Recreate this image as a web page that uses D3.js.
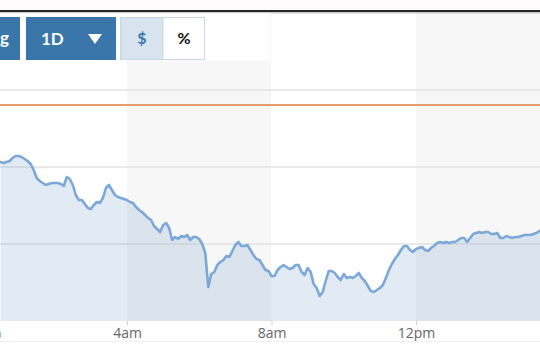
<!DOCTYPE html>
<html>
<head>
<meta charset="utf-8">
<script src="https://cdn.jsdelivr.net/npm/d3@7"></script>
<style>
  html, body { margin: 0; padding: 0; background: #fdfbfb; }
  svg { display: block; }
</style>
</head>
<body>
<svg id="chart" width="540" height="360"></svg>
<script>
// ---- data ----
const startMinute = 30;   // first sample at 00:30
const stepMinutes = 5;    // one sample every 5 minutes
const prices = [
  41.59,41.58,41.59,41.60,41.63,41.65,41.65,41.64,41.62,41.60,41.57,41.51,41.43,41.40,41.38,41.36,41.37,41.38,41.38,41.38,
  41.37,41.35,41.44,41.42,41.36,41.26,41.21,41.21,41.17,41.13,41.12,41.16,41.19,41.18,41.23,41.33,41.36,41.31,41.26,41.24,
  41.23,41.22,41.21,41.19,41.18,41.14,41.11,41.09,41.06,41.03,41.01,40.95,40.92,40.89,40.96,40.98,40.93,40.81,40.84,40.82,
  40.85,40.84,40.86,40.81,40.84,40.84,40.82,40.77,40.68,40.34,40.47,40.49,40.56,40.59,40.61,40.65,40.64,40.70,40.76,40.79,
  40.75,40.75,40.76,40.71,40.66,40.62,40.61,40.56,40.51,40.50,40.45,40.45,40.51,40.54,40.56,40.54,40.52,40.53,40.56,40.56,
  40.49,40.46,40.53,40.49,40.37,40.33,40.25,40.29,40.40,40.50,40.50,40.48,40.44,40.41,40.47,40.43,40.44,40.43,40.45,40.48,
  40.43,40.40,40.35,40.30,40.29,40.31,40.33,40.36,40.43,40.51,40.57,40.62,40.66,40.71,40.75,40.75,40.71,40.69,40.72,40.73,
  40.74,40.71,40.70,40.73,40.75,40.78,40.79,40.78,40.79,40.78,40.79,40.79,40.81,40.83,40.83,40.79,40.83,40.87,40.88,40.89,
  40.88,40.89,40.89,40.87,40.87,40.88,40.83,40.83,40.85,40.84,40.83,40.84,40.84,40.85,40.86,40.86,40.86,40.87,40.88,40.90,
  40.92
];
const referencePrice = 42.16;                       // orange line
const gridPrices = [40.77, 41.54, 42.31, 43.08];
const priceDomain = [40.00, 43.08];
const tickMinutes = [0, 240, 480, 720];
const tickLabels = ["12am", "4am", "8am", "12pm"];
const bandStarts = [0, 240, 480, 720];              // 4-hour shaded bands
const buttonLabels = ["Log", "1D"];
const toggleLabels = ["$", "%"];

// ---- layout ----
const W = 540, H = 360;
const plotTop = 13, plotBottom = 321;
const svg = d3.select("#chart");

const x = d3.scaleLinear().domain([0, 960]).range([-17.5, 560.5]);
const y = d3.scaleLinear().domain(priceDomain).range([plotBottom, plotTop]);

const data = prices.map((p, i) => ({ t: startMinute + i * stepMinutes, p }));

// page background
svg.append("rect").attr("x", 0).attr("y", 0).attr("width", W).attr("height", H).attr("fill", "#fdfbfb");
svg.append("rect").attr("x", 0).attr("y", plotTop).attr("width", W).attr("height", H - plotTop).attr("fill", "#ffffff");

// alternating bands
svg.append("g").selectAll("rect").data(bandStarts).join("rect")
  .attr("x", d => x(d))
  .attr("y", plotTop)
  .attr("width", d => x(d + 240) - x(d))
  .attr("height", plotBottom - plotTop)
  .attr("fill", (d, i) => i % 2 ? "#f7f7f7" : "#ffffff");

// gridlines
svg.append("g").selectAll("line").data(gridPrices).join("line")
  .attr("x1", 0).attr("x2", W)
  .attr("y1", d => y(d)).attr("y2", d => y(d))
  .attr("stroke", "#e2e2e2").attr("stroke-width", 1.5);

// area + line
const clipId = "plotclip";
svg.append("clipPath").attr("id", clipId).append("rect")
  .attr("x", 0).attr("y", plotTop).attr("width", W).attr("height", plotBottom - plotTop);

const area = d3.area().x(d => x(d.t)).y0(plotBottom).y1(d => y(d.p)).curve(d3.curveLinear);
const line = d3.line().x(d => x(d.t)).y(d => y(d.p)).curve(d3.curveLinear);

const g = svg.append("g").attr("clip-path", `url(#${clipId})`);
g.append("path").datum(data).attr("d", area)
  .attr("fill", "#7aa3cc").attr("fill-opacity", 0.22);
g.append("path").datum(data).attr("d", line)
  .attr("fill", "none").attr("stroke", "#7ba8d8").attr("stroke-width", 2.6)
  .attr("stroke-linejoin", "round").attr("stroke-linecap", "round");

// reference line
svg.append("line")
  .attr("x1", 0).attr("x2", W)
  .attr("y1", y(referencePrice)).attr("y2", y(referencePrice))
  .attr("stroke", "#e27b3e").attr("stroke-width", 1.6);

// x axis
const xAxis = d3.axisBottom(x)
  .tickValues(tickMinutes)
  .tickFormat((d, i) => tickLabels[i])
  .tickSize(4);
const ax = svg.append("g").attr("transform", `translate(0,${plotBottom})`).call(xAxis);
ax.select(".domain").remove();
ax.selectAll(".tick line").attr("stroke", "#cfcfcf");
ax.selectAll(".tick text")
  .attr("fill", "#666").attr("font-family", "'Open Sans', sans-serif").attr("font-size", 14);

// faint line under the axis
svg.append("line").attr("x1", 0).attr("x2", W).attr("y1", 341.5).attr("y2", 341.5)
  .attr("stroke", "#f0f0f0").attr("stroke-width", 1);

// top border
svg.append("rect").attr("x", 0).attr("y", 10).attr("width", W).attr("height", 2.2).attr("fill", "#23262b");
svg.append("rect").attr("x", 0).attr("y", 12.2).attr("width", W).attr("height", 1).attr("fill", "#c9cccf");

// toolbar
const tb = svg.append("g");
tb.append("rect").attr("x", 0).attr("y", 13.2).attr("width", 270).attr("height", 47.5).attr("fill", "#ffffff");

const btnFont = "Lato, 'Open Sans', sans-serif";
// partially hidden button
tb.append("rect").attr("x", -60).attr("y", 17).attr("width", 80).attr("height", 43).attr("fill", "#3a76aa");
tb.append("text").attr("x", 9).attr("y", 44).attr("text-anchor", "end")
  .attr("fill", "#fff").attr("font-family", btnFont).attr("font-weight", 700).attr("font-size", 17)
  .text(buttonLabels[0]);
// 1D button
tb.append("rect").attr("x", 26).attr("y", 17).attr("width", 90).attr("height", 43).attr("fill", "#3a76aa");
tb.append("text").attr("x", 41).attr("y", 45).attr("fill", "#fff")
  .attr("font-family", btnFont).attr("font-weight", 700).attr("font-size", 17).text(buttonLabels[1]);
tb.append("path").attr("d", "M88,34 L102,34 L95,44 Z").attr("fill", "#fff");

// $ / % toggle
tb.append("rect").attr("x", 120.5).attr("y", 17.5).attr("width", 84).attr("height", 42)
  .attr("fill", "#ffffff").attr("stroke", "#c6d6e6").attr("stroke-width", 1);
tb.append("rect").attr("x", 121).attr("y", 18).attr("width", 42).attr("height", 41).attr("fill", "#d7e3ef");
tb.append("line").attr("x1", 163).attr("x2", 163).attr("y1", 18).attr("y2", 59).attr("stroke", "#c6d6e6");
tb.append("text").attr("x", 142).attr("y", 44).attr("text-anchor", "middle")
  .attr("fill", "#3b78ad").attr("font-family", btnFont).attr("font-weight", 700).attr("font-size", 16).text(toggleLabels[0]);
tb.append("text").attr("x", 184).attr("y", 44).attr("text-anchor", "middle")
  .attr("fill", "#111").attr("font-family", btnFont).attr("font-weight", 700).attr("font-size", 16).text(toggleLabels[1]);
</script>
</body>
</html>
